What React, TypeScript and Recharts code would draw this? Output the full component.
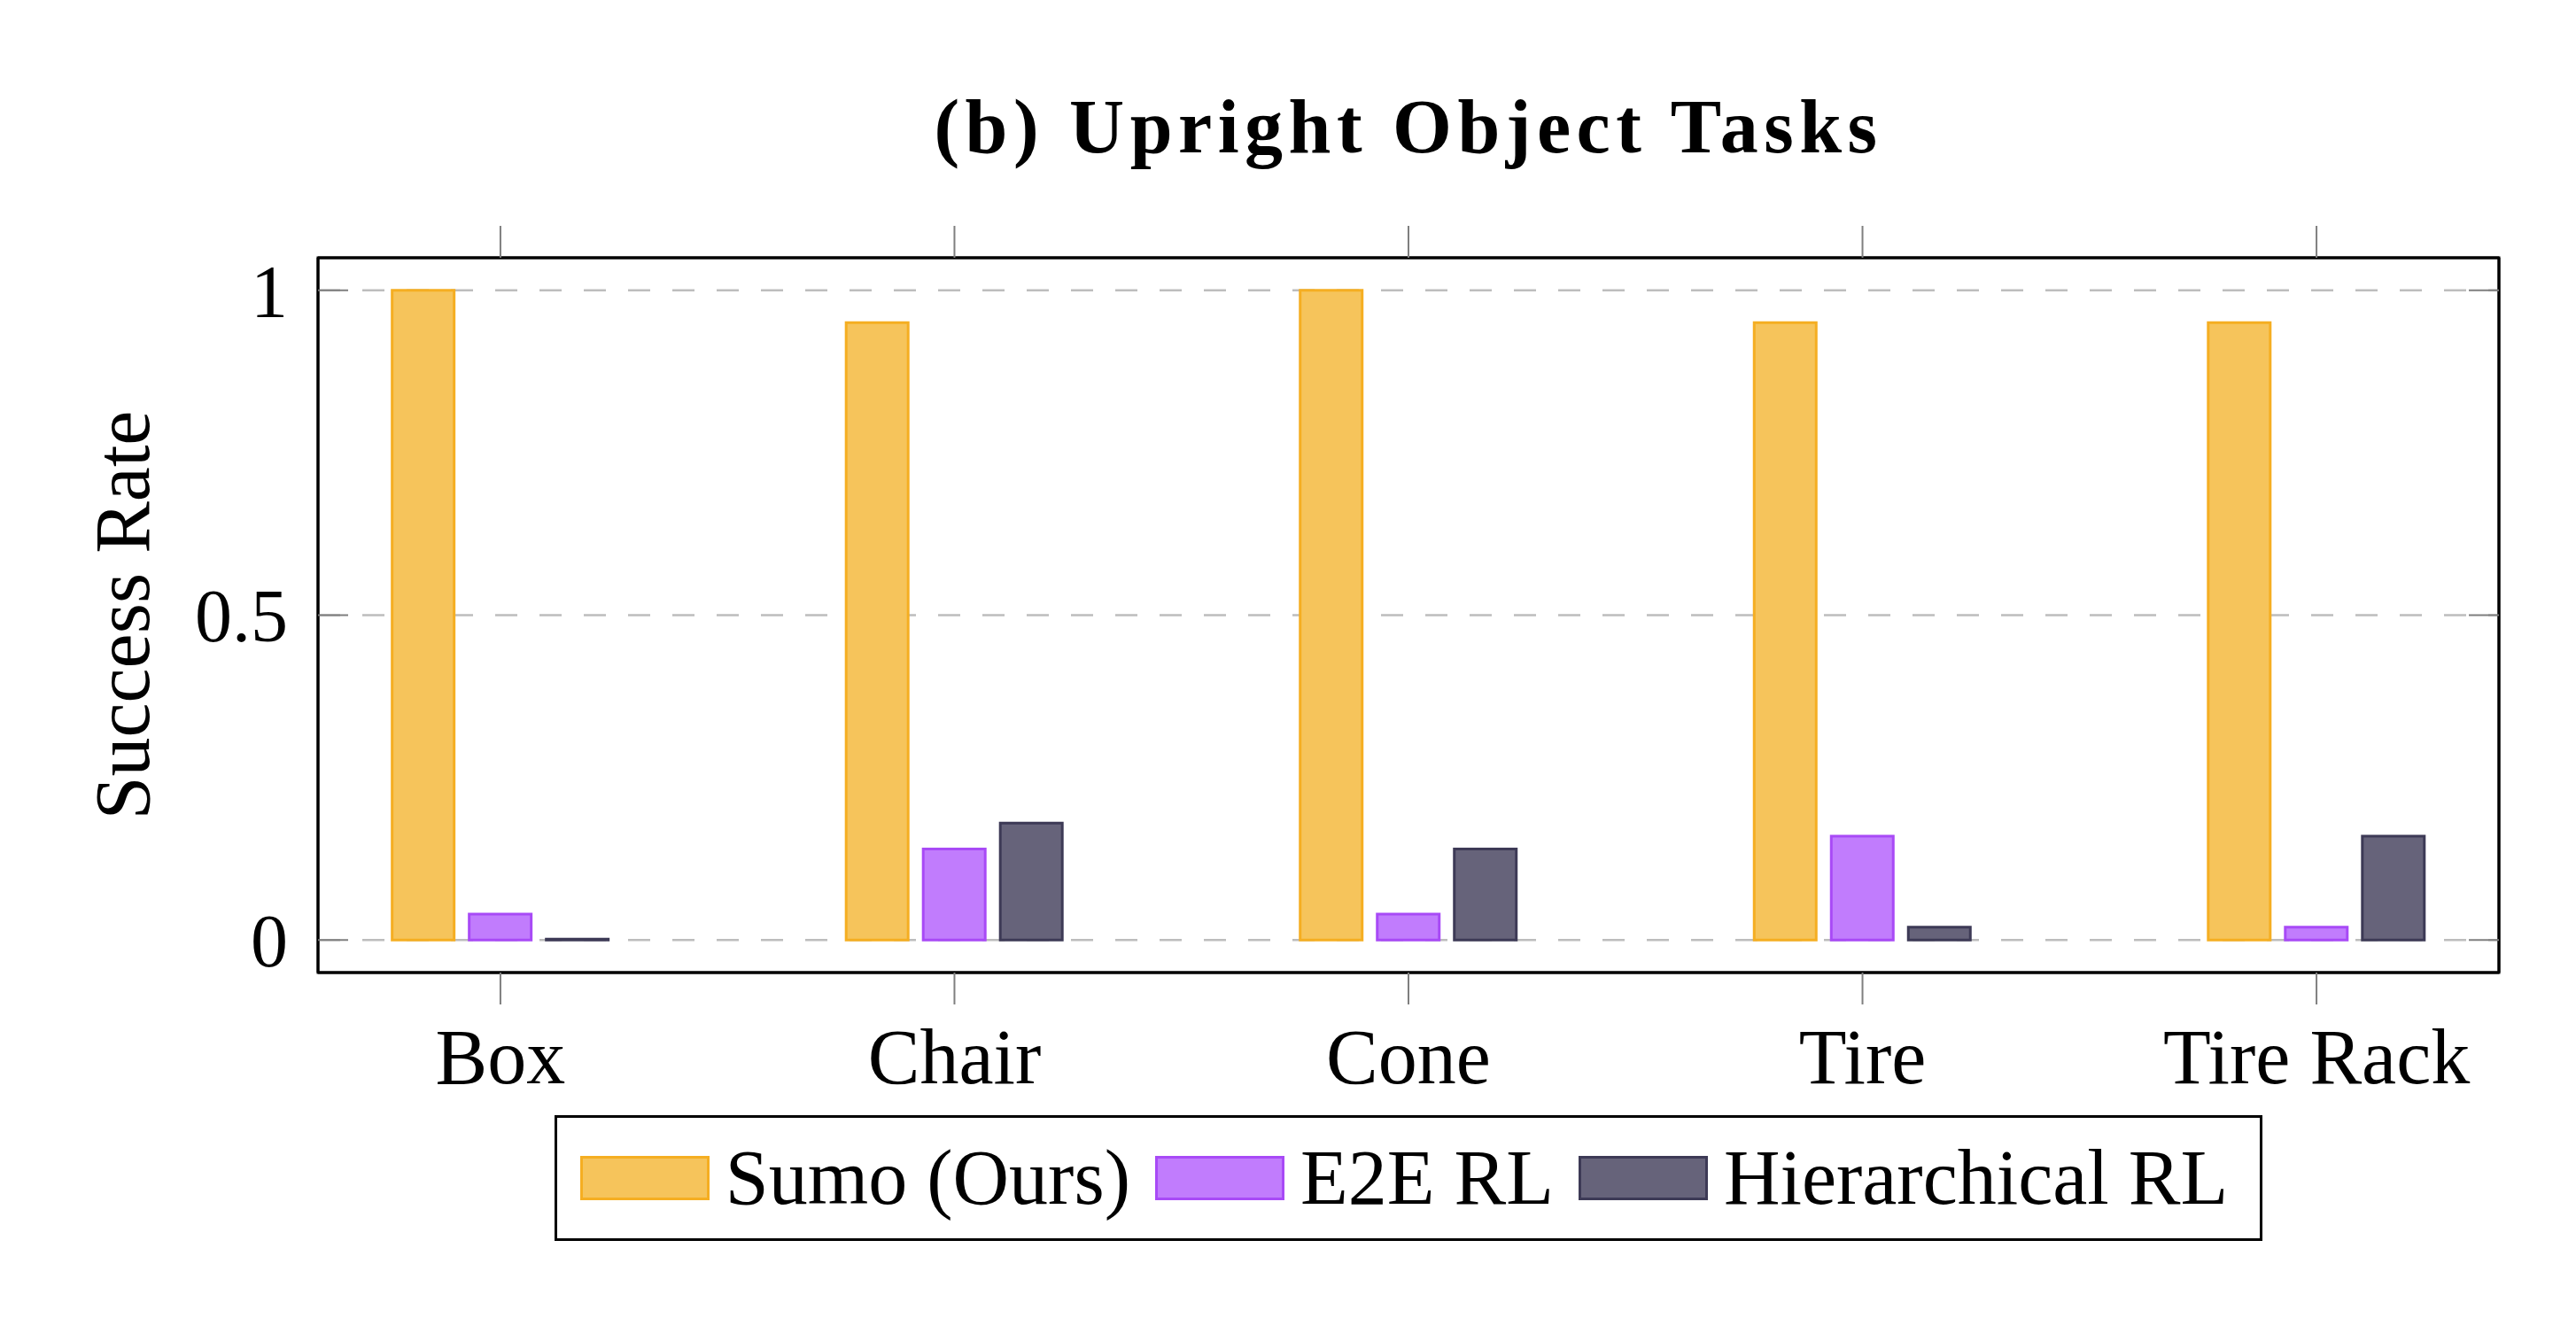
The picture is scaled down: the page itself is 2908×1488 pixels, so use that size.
import React from 'react';
import { BarChart, Bar, XAxis, YAxis, CartesianGrid, Legend, ReferenceArea } from 'recharts';

const categories = ['Box', 'Chair', 'Cone', 'Tire', 'Tire Rack'];
const sumoValues = [1, 0.95, 1, 0.95, 0.95];
const e2eValues = [0.04, 0.14, 0.04, 0.16, 0.02];
const hierValues = [0, 0.18, 0.14, 0.02, 0.16];
const yTicks = [0, 0.5, 1];
const xTicks = [0, 1, 2, 3, 4];
const xDomain = [-0.4018, 4.4018];
const yDomain = [-0.05, 1.05];
const seriesKeys = ['sumo', 'e2e', 'hier'];
const seriesNames = ['Sumo (Ours)', 'E2E RL', 'Hierarchical RL'];

const seriesStyle: Record<string, { fill: string; stroke: string }> = {
  sumo: { fill: '#F6C45B', stroke: '#F5AE22' },
  e2e: { fill: '#C17CFD', stroke: '#A84AF6' },
  hier: { fill: '#66637A', stroke: '#3D3A56' },
};

const data = categories.map((name, i) => ({
  idx: i,
  name,
  sumo: sumoValues[i],
  e2e: e2eValues[i],
  hier: hierValues[i],
}));

const FONT = "'Liberation Serif', 'Times New Roman', serif";
const W = 2892;
const H = 1472;
const PLOT_CX = 1582;

const renderLegend = () => (
  <div style={{ display: 'flex', justifyContent: 'center' }}>
    <div
      style={{
        display: 'flex',
        alignItems: 'center',
        border: '3px solid #000',
        height: 136,
        padding: '0 36px 0 26px',
        background: '#fff',
        fontFamily: FONT,
        fontSize: 88,
        color: '#000',
      }}
    >
      {seriesKeys.map((k, i) => (
        <div key={k} style={{ display: 'flex', alignItems: 'center', marginLeft: i ? 28 : 0 }}>
          <div
            style={{
              width: 140,
              height: 44,
              background: seriesStyle[k].fill,
              border: `3px solid ${seriesStyle[k].stroke}`,
            }}
          />
          <span style={{ marginLeft: 18, lineHeight: 1, whiteSpace: 'nowrap' }}>{seriesNames[i]}</span>
        </div>
      ))}
    </div>
  </div>
);

const blank = () => '';

export default function App() {
  return (
    <div style={{ position: 'relative', width: W, height: H, background: '#fff', fontFamily: FONT }}>
      <BarChart
        width={W}
        height={H}
        data={data}
        margin={{ top: 282, left: 0, right: 78, bottom: 262 }}
        barSize={70}
        barGap={17}
      >
        <CartesianGrid
          vertical={false}
          horizontalValues={yTicks}
          stroke="#BDBDBD"
          strokeWidth={2.5}
          strokeDasharray="25 25"
        />
        <XAxis
          dataKey="idx"
          type="number"
          domain={xDomain}
          ticks={xTicks}
          allowDataOverflow
          tickFormatter={(v: number) => categories[v]}
          height={120}
          tickSize={36}
          tickMargin={27}
          interval={0}
          axisLine={{ stroke: '#000', strokeWidth: 3 }}
          tickLine={{ stroke: '#7F7F7F', strokeWidth: 2 }}
          tick={{ fontFamily: FONT, fontSize: 88, fill: '#000' }}
        />
        <XAxis
          xAxisId="top"
          orientation="top"
          dataKey="idx"
          type="number"
          domain={xDomain}
          ticks={xTicks}
          allowDataOverflow
          height={1}
          tickSize={36}
          tickMargin={0}
          interval={0}
          tickFormatter={blank}
          axisLine={{ stroke: '#000', strokeWidth: 3 }}
          tickLine={{ stroke: '#7F7F7F', strokeWidth: 2 }}
          tick={{ fontSize: 1, fill: 'none' }}
        />
        <YAxis
          domain={yDomain}
          ticks={yTicks}
          allowDataOverflow
          width={351}
          tickSize={-34}
          tickMargin={68}
          interval={0}
          tickFormatter={(v: number) => String(v)}
          axisLine={{ stroke: '#000', strokeWidth: 3 }}
          tickLine={{ stroke: '#7F7F7F', strokeWidth: 2 }}
          tick={{ fontFamily: FONT, fontSize: 84, fill: '#000' }}
        />
        <YAxis
          yAxisId="right"
          orientation="right"
          domain={yDomain}
          ticks={yTicks}
          allowDataOverflow
          width={1}
          tickSize={-34}
          tickMargin={0}
          interval={0}
          tickFormatter={blank}
          axisLine={{ stroke: '#000', strokeWidth: 3 }}
          tickLine={{ stroke: '#7F7F7F', strokeWidth: 2 }}
          tick={{ fontSize: 1, fill: 'none' }}
        />
        {seriesKeys.map((k, i) => (
          <Bar
            key={k}
            dataKey={k}
            name={seriesNames[i]}
            fill={seriesStyle[k].fill}
            stroke={seriesStyle[k].stroke}
            strokeWidth={3}
            minPointSize={k === 'hier' ? 1 : 0}
            isAnimationActive={false}
          />
        ))}
        <ReferenceArea
          x1={xDomain[0]}
          x2={xDomain[1]}
          y1={yDomain[0]}
          y2={yDomain[1]}
          fill="none"
          fillOpacity={0}
          stroke="#000"
          strokeWidth={3}
          ifOverflow="visible"
        />
        <Legend
          verticalAlign="middle"
          align="center"
          content={renderLegend}
          wrapperStyle={{ left: PLOT_CX - 1400, top: 1251, width: 2800, height: 142 }}
        />
      </BarChart>
      <svg
        width={W}
        height={H}
        style={{ position: 'absolute', left: 0, top: 0, pointerEvents: 'none' }}
      >
        <text
          x={PLOT_CX}
          y={164}
          textAnchor="middle"
          fontFamily={FONT}
          fontWeight="bold"
          fontSize={86}
          letterSpacing={6.5}
          fill="#000"
        >
          (b) Upright Object Tasks
        </text>
        <text
          transform="translate(160,686.5) rotate(-90)"
          textAnchor="middle"
          fontFamily={FONT}
          fontSize={88}
          fill="#000"
        >
          Success Rate
        </text>
      </svg>
    </div>
  );
}
